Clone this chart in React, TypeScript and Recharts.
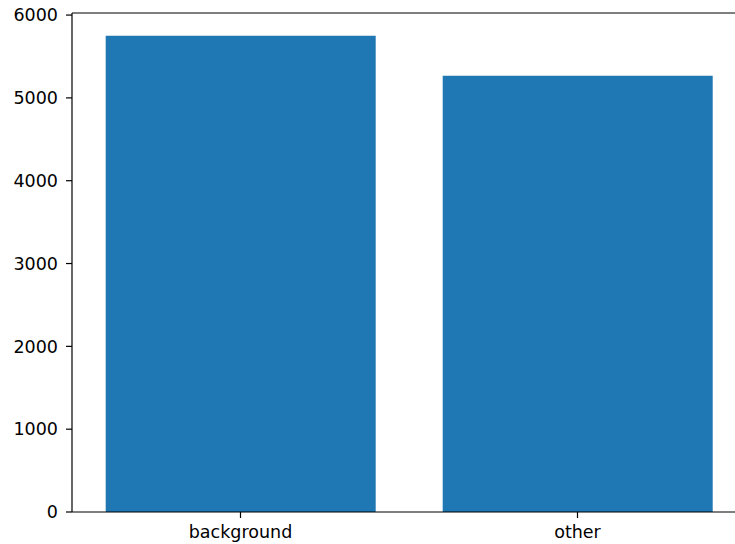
import React from "react";
import { BarChart, Bar, XAxis, YAxis, ReferenceLine } from "recharts";

// counts per class
const categories = ["background", "other"];
const counts = [5751, 5267];
const yTicks = [0, 1000, 2000, 3000, 4000, 5000, 6000];
const yMax = 6025;

const data = categories.map((name, i) => ({ name, count: counts[i] }));

const tickStyle = { fontFamily: "DejaVu Sans", fontSize: 17.5, fill: "#000" };

export default function App() {
  return (
    <div
      style={{
        position: "absolute",
        left: 0,
        top: 0,
        width: 735,
        height: 544,
        overflow: "hidden",
        background: "#fff",
      }}
    >
      <BarChart
        width={760}
        height={544}
        data={data}
        margin={{ top: 13, right: 14, bottom: 0, left: 0 }}
        barCategoryGap="10%"
      >
        <XAxis
          dataKey="name"
          height={32}
          tick={tickStyle}
          tickSize={6}
          tickMargin={8}
          axisLine={{ stroke: "#000", strokeWidth: 1.2 }}
          tickLine={{ stroke: "#000", strokeWidth: 1.2 }}
        />
        <YAxis
          width={72}
          domain={[0, yMax]}
          ticks={yTicks}
          interval={0}
          allowDataOverflow
          tick={tickStyle}
          tickSize={6}
          tickMargin={8}
          axisLine={{ stroke: "#000", strokeWidth: 1.2 }}
          tickLine={{ stroke: "#000", strokeWidth: 1.2 }}
        />
        <Bar dataKey="count" fill="#1f77b4" isAnimationActive={false} />
        {/* top spine */}
        <ReferenceLine y={yMax} stroke="#000" strokeWidth={1.2} />
      </BarChart>
    </div>
  );
}
